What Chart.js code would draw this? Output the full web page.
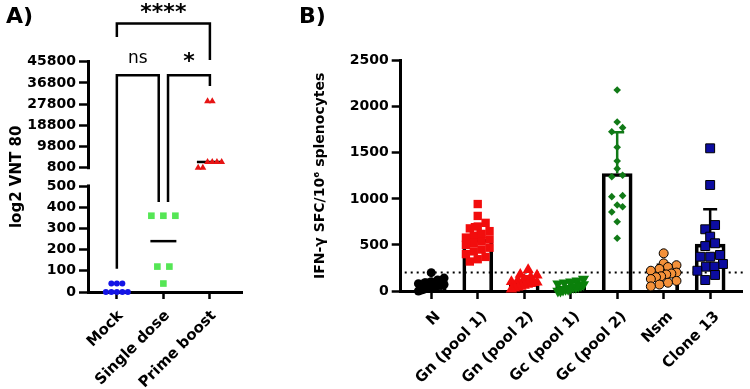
<!DOCTYPE html>
<html lang="en">
<head>
<meta charset="UTF-8">
<title>VNT 80 and IFN-γ ELISpot</title>
<script src="https://cdn.jsdelivr.net/npm/chart.js"></script>
<style>
  body { margin: 0; background: #fff; }
  #wrap { position: relative; width: 750px; height: 389px; overflow: hidden; font-family: "DejaVu Sans", sans-serif; }
  #chartA { position: absolute; left: 0; top: 0; }
  #chartB { position: absolute; left: 300px; top: 0; }
  .panel { position: absolute; font-weight: bold; font-size: 22px; line-height: 22px; }
</style>
</head>
<body>
<div id="wrap">
  <canvas id="chartA" width="300" height="389"></canvas>
  <canvas id="chartB" width="450" height="389"></canvas>
  <div class="panel" style="left:6px; top:5px">A)</div>
  <div class="panel" style="left:299px; top:5px">B)</div>
</div>
<script>
// ---------- Panel A : VNT 80 per mouse ----------
const groupsA = ['Mock', 'Single dose', 'Prime boost'];
const mockVals = [0, 0, 0, 0, 0, 40, 40, 40];
const singleVals = [360, 360, 360, 120, 120, 40];
const primeVals = [29000, 29000, 3200, 3200, 3200, 3200, 800, 800];
const ticksA = [0, 100, 200, 300, 400, 500, 800, 9800, 18800, 27800, 36800, 45800];

// ---------- Panel B : IFN-g SFC per 10^6 splenocytes ----------
const groupsB = ['N', 'Gn (pool 1)', 'Gn (pool 2)', 'Gc (pool 1)', 'Gc (pool 2)', 'Nsm', 'Clone 13'];
const nVals = [199, 140, 120, 100, 90, 80, 70, 60, 60, 50, 40, 40, 30, 20, 10, 0];
const gn1Vals = [944, 815, 740, 700, 680, 650, 620, 600, 580, 560, 540, 520, 500, 470, 450, 430, 400, 370, 345, 320];
const gn2Vals = [230, 180, 170, 150, 130, 115, 100, 95, 90, 80, 70, 60, 50, 40, 30, 20];
const gc1Vals = [130, 110, 100, 90, 80, 70, 60, 50, 40, 40, 30, 20, 20, 10, 0, 0];
const gc2Vals = [2182, 1835, 1773, 1729, 1560, 1411, 1328, 1256, 1241, 1035, 1024, 934, 915, 858, 752, 572];
const nsmVals = [409, 300, 280, 260, 240, 220, 200, 190, 180, 160, 150, 130, 110, 90, 70, 50];
const cloneVals = [1549, 1151, 716, 670, 590, 518, 488, 391, 372, 372, 293, 264, 264, 220, 174, 119];
const cutoffB = 200;

Chart.defaults.font.family = "'DejaVu Sans', sans-serif";
Chart.defaults.color = '#000';

// broken y axis of panel A: 0-500 on the lower part, 800-45800 on the upper part
const brk = v => v <= 500 ? v / 100 : 5.87 + (v - 800) / 9000;
const topA = brk(45800);

// layout of both plots (px)
const areaA = { left: 88, right: 242, top: 61.7, bottom: 292, w: 300 };
const areaB = { left: 100.7, right: 448, top: 60.7, bottom: 291, w: 450 };
const xA = { min: -0.62, max: 2.69 };
const xB = { min: -0.657, max: 6.7 };

// Prism-like dot layout: points of similar height share a row, centred on the group
function swarm(vals, toPx, binPx, stepPx, maxHalf, unitPx) {
  const idx = vals.map((v, i) => i).sort((a, b) => vals[a] - vals[b]);
  const off = new Array(vals.length).fill(0);
  let row = [];
  const flush = () => {
    const n = row.length;
    const step = n > 1 ? Math.min(stepPx, 2 * maxHalf / (n - 1)) : 0;
    row.forEach((i, k) => { off[i] = (k - (n - 1) / 2) * step / unitPx; });
    row = [];
  };
  idx.forEach(i => {
    if (row.length && toPx(vals[i]) - toPx(vals[row[0]]) >= binPx) flush();
    row.push(i);
  });
  flush();
  return off;
}

const median = a => {
  const s = [...a].sort((p, q) => p - q), m = s.length / 2;
  return s.length % 2 ? s[Math.floor(m)] : (s[m - 1] + s[m]) / 2;
};
const mean = a => a.reduce((s, v) => s + v, 0) / a.length;
const sd = a => { const m = mean(a); return Math.sqrt(a.reduce((s, v) => s + (v - m) ** 2, 0) / (a.length - 1)); };

const boldFont = size => ({ family: "'DejaVu Sans', sans-serif", weight: 'bold', size: size });

// ---------------- chart A ----------------
const pxA = (areaA.bottom - areaA.top) / topA;
const unitA = (areaA.right - areaA.left) / (xA.max - xA.min);
const valsA = [mockVals, singleVals, primeVals];
const stylesA = [
  { pointStyle: 'circle', r: 3, color: '#1414e6', step: 5.5 },
  { pointStyle: 'rect', r: 4.7, color: '#55e655', step: 12 },
  { pointStyle: 'triangle', r: 4, color: '#e61414', step: 4.7 }
];
const mediansA = valsA.map(median);

const datasetsA = valsA.map((vals, g) => {
  const st = stylesA[g];
  const off = swarm(vals, v => brk(v) * pxA, 7, st.step, 12, unitA);
  return {
    data: vals.map((v, k) => ({ x: g + off[k], y: brk(v) })),
    pointStyle: st.pointStyle,
    pointRadius: st.r,
    pointBackgroundColor: st.color,
    pointBorderWidth: 0,
    clip: false
  };
});

const brackets = [
  { from: 0, to: 2, top: 62000, legs: [56300, 46500], text: '****', font: 'bold 22px "DejaVu Sans"', dy: -1 },
  { from: 0, to: 0.9, top: 40000, legs: [110, 425], text: 'ns', font: '17px "DejaVu Sans"', dy: 8 },
  { from: 1.1, to: 2, top: 40000, legs: [425, 35500], text: '*', font: 'bold 22px "DejaVu Sans"', dy: 2 }
];

const decoA = {
  id: 'decoA',
  beforeDatasetsDraw(chart) {
    const { ctx, scales: { x, y } } = chart;
    ctx.save();
    ctx.strokeStyle = '#000';
    ctx.lineWidth = 2.5;
    mediansA.forEach((m, g) => {
      const px = x.getPixelForValue(g), py = y.getPixelForValue(brk(m));
      ctx.beginPath(); ctx.moveTo(px - 13, py); ctx.lineTo(px + 13, py); ctx.stroke();
    });
    ctx.restore();
  },
  afterDraw(chart) {
    const { ctx, chartArea: a, scales: { x, y } } = chart;
    ctx.save();
    // gap in the y axis between 500 and 800
    const y5 = y.getPixelForValue(brk(500)), y8 = y.getPixelForValue(brk(800));
    ctx.fillStyle = '#fff';
    ctx.fillRect(a.left - 3, y8 + 1.6, 6, y5 - y8 - 3.2);
    // significance brackets
    ctx.strokeStyle = '#000';
    ctx.fillStyle = '#000';
    ctx.lineWidth = 2.5;
    ctx.textAlign = 'center';
    brackets.forEach(b => {
      const x1 = x.getPixelForValue(b.from), x2 = x.getPixelForValue(b.to);
      const yt = y.getPixelForValue(brk(b.top));
      ctx.beginPath();
      ctx.moveTo(x1, y.getPixelForValue(brk(b.legs[0])));
      ctx.lineTo(x1, yt); ctx.lineTo(x2, yt);
      ctx.lineTo(x2, y.getPixelForValue(brk(b.legs[1])));
      ctx.stroke();
      ctx.font = b.font;
      ctx.textBaseline = 'bottom';
      ctx.fillText(b.text, (x1 + x2) / 2, yt - b.dy);
    });
    ctx.restore();
  }
};

new Chart(document.getElementById('chartA'), {
  type: 'scatter',
  data: { datasets: datasetsA },
  options: {
    responsive: false,
    animation: false,
    events: [],
    layout: { padding: { left: 0, top: areaA.top, right: areaA.w - areaA.right, bottom: 0 } },
    plugins: { legend: { display: false }, tooltip: { enabled: false } },
    scales: {
      x: {
        type: 'linear', min: xA.min, max: xA.max, offset: false,
        afterFit: s => { s.height = 389 - areaA.bottom; },
        afterBuildTicks: s => { s.ticks = groupsA.map((g, i) => ({ value: i })); },
        ticks: { callback: (v, i) => groupsA[i], autoSkip: false, minRotation: 45, maxRotation: 45, font: boldFont(15), padding: 8, labelOffset: 4 },
        grid: { drawOnChartArea: false, offset: false, tickLength: 7, tickWidth: 2.5, color: '#000' },
        border: { color: '#000', width: 3 }
      },
      y: {
        type: 'linear', min: 0, max: topA,
        afterFit: s => { s.width = areaA.left; },
        afterBuildTicks: s => { s.ticks = ticksA.map(v => ({ value: brk(v) })); },
        ticks: { callback: (v, i) => ticksA[i], autoSkip: false, font: boldFont(14), padding: 3 },
        grid: { drawOnChartArea: false, tickLength: 9, tickWidth: 2.5, color: '#000' },
        border: { color: '#000', width: 3 },
        title: { display: true, text: 'log2 VNT 80', font: boldFont(15), padding: { top: 8, bottom: 0 } }
      }
    }
  },
  plugins: [decoA]
});

// ---------------- chart B ----------------
const pxB = (areaB.bottom - areaB.top) / 2500;
const unitB = (areaB.right - areaB.left) / (xB.max - xB.min);
const valsB = [nVals, gn1Vals, gn2Vals, gc1Vals, gc2Vals, nsmVals, cloneVals];
const stylesB = [
  { pointStyle: 'circle', r: 4.5, color: '#000000', border: 0, step: 7, rot: 0 },
  { pointStyle: 'rect', r: 5.9, color: '#f20d0d', border: 0, step: 8, rot: 0 },
  { pointStyle: 'triangle', r: 6.5, color: '#f20d0d', border: 0, step: 8, rot: 0 },
  { pointStyle: 'triangle', r: 6.5, color: '#0b800b', border: 0, step: 8, rot: 180 },
  { pointStyle: 'rectRot', r: 3.8, color: '#117a17', border: 0, step: 11, rot: 0 },
  { pointStyle: 'circle', r: 4.5, color: '#f4913a', border: 1, step: 9, rot: 0 },
  { pointStyle: 'rect', r: 6.3, color: '#0c0ca0', border: 1, step: 10, rot: 0 }
];
const errColorsB = ['#000', '#f20d0d', '#f20d0d', '#0b800b', '#117a17', '#000', '#000'];
const statsB = valsB.map(v => ({ mean: mean(v), sd: sd(v) }));

const datasetsB = valsB.map((vals, g) => {
  const st = stylesB[g];
  const off = swarm(vals, v => v * pxB, 7, st.step, 13, unitB);
  return {
    data: vals.map((v, k) => ({ x: g + off[k], y: v })),
    pointStyle: st.pointStyle,
    pointRadius: st.r,
    pointRotation: st.rot,
    pointBackgroundColor: st.color,
    pointBorderColor: '#000',
    pointBorderWidth: st.border,
    clip: false,
    order: 1
  };
});
datasetsB.push({
  type: 'bar',
  data: statsB.map((s, i) => ({ x: i, y: s.mean })),
  backgroundColor: 'rgba(0,0,0,0)',
  borderColor: '#000',
  borderWidth: 3,
  barThickness: 30,
  order: 2
});

const decoB = {
  id: 'decoB',
  beforeDatasetsDraw(chart) {
    const { ctx, chartArea: a, scales: { x, y } } = chart;
    ctx.save();
    // positivity cut-off
    const yc = y.getPixelForValue(cutoffB);
    ctx.strokeStyle = '#000';
    ctx.lineWidth = 2;
    ctx.setLineDash([2, 4]);
    ctx.beginPath(); ctx.moveTo(a.left + 4, yc); ctx.lineTo(a.right, yc); ctx.stroke();
    ctx.setLineDash([]);
    // mean + SD
    ctx.lineWidth = 2.5;
    statsB.forEach((s, i) => {
      const px = x.getPixelForValue(i);
      const y1 = y.getPixelForValue(s.mean), y2 = y.getPixelForValue(s.mean + s.sd);
      ctx.strokeStyle = errColorsB[i];
      ctx.beginPath();
      ctx.moveTo(px, y1); ctx.lineTo(px, y2);
      ctx.moveTo(px - 7, y2); ctx.lineTo(px + 7, y2);
      ctx.stroke();
    });
    ctx.restore();
  }
};

new Chart(document.getElementById('chartB'), {
  type: 'scatter',
  data: { datasets: datasetsB },
  options: {
    responsive: false,
    animation: false,
    events: [],
    layout: { padding: { left: 0, top: areaB.top, right: areaB.w - areaB.right, bottom: 0 } },
    plugins: { legend: { display: false }, tooltip: { enabled: false } },
    scales: {
      x: {
        type: 'linear', min: xB.min, max: xB.max, offset: false,
        afterFit: s => { s.height = 389 - areaB.bottom; },
        afterBuildTicks: s => { s.ticks = groupsB.map((g, i) => ({ value: i })); },
        ticks: { callback: (v, i) => groupsB[i], autoSkip: false, minRotation: 45, maxRotation: 45, font: boldFont(15), padding: 9, labelOffset: 7 },
        grid: { drawOnChartArea: false, offset: false, tickLength: 8, tickWidth: 2.5, color: '#000' },
        border: { color: '#000', width: 3 }
      },
      y: {
        type: 'linear', min: 0, max: 2500,
        afterFit: s => { s.width = areaB.left; },
        ticks: { stepSize: 500, callback: v => String(v), font: boldFont(14), padding: 3 },
        grid: { drawOnChartArea: false, tickLength: 9, tickWidth: 2.5, color: '#000' },
        border: { color: '#000', width: 3 },
        title: { display: true, text: 'IFN-γ SFC/10⁶ splenocytes', font: boldFont(14), padding: { top: 11.6, bottom: 0 } }
      }
    }
  },
  plugins: [decoB]
});
</script>
</body>
</html>
